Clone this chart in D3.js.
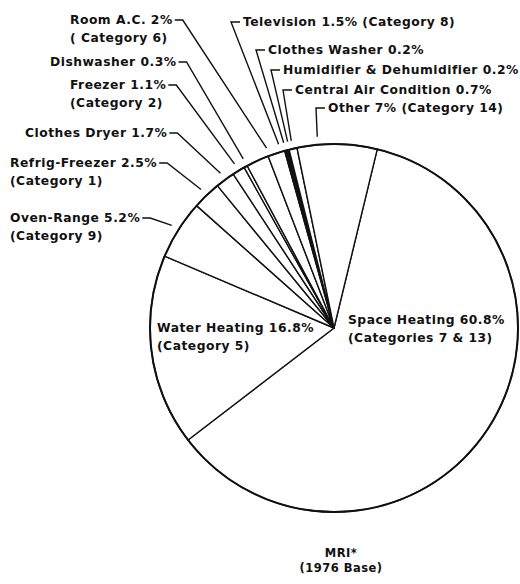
<!DOCTYPE html>
<html>
<head>
<meta charset="utf-8">
<script src="https://cdn.jsdelivr.net/npm/d3@7"></script>
<style>
  html, body { margin: 0; padding: 0; background: #fff; }
  text { font-family: "DejaVu Sans", sans-serif; font-weight: bold; font-size: 12.3px; letter-spacing: 0.5px; fill: #111; }
</style>
</head>
<body>
<div id="chart"></div>
<script>
// Slices clockwise, starting with Space Heating
const uses = ["Space Heating", "Water Heating", "Oven-Range", "Refrig-Freezer", "Clothes Dryer",
  "Freezer", "Dishwasher", "Room A.C.", "Television", "Clothes Washer",
  "Humidifier & Dehumidifier", "Central Air Condition", "Other"];
const shares = [60.8, 16.8, 5.2, 2.5, 1.7, 1.1, 0.3, 2, 1.5, 0.2, 0.2, 0.7, 7];
const categories = ["(Categories 7 & 13)", "(Category 5)", "(Category 9)", "(Category 1)", null,
  "(Category 2)", null, "( Category 6)", "(Category 8)", null, null, null, "(Category 14)"];
const blackSlices = ["Clothes Washer", "Humidifier & Dehumidifier"];
const titleLines = ["MRI*", "(1976 Base)"];

// label placement: side, left x of text, baseline, category inline or on second line, leader nudge (deg)
const labelLayout = [
  { side: "inside", x: 348, y: 324, inline: false },
  { side: "inside", x: 157, y: 332, inline: false },
  { side: "left", x: 10, y: 222, inline: false, nudge: 0 },
  { side: "left", x: 10, y: 167, inline: false, nudge: 0 },
  { side: "left", x: 25, y: 137, inline: false, nudge: 0 },
  { side: "left", x: 70, y: 89, inline: false, nudge: 0 },
  { side: "left", x: 50, y: 66, inline: false, nudge: 0.5 },
  { side: "left", x: 70, y: 24, inline: false, nudge: 4 },
  { side: "top", x: 243, y: 26, inline: true, nudge: 1.5 },
  { side: "top", x: 268, y: 54, inline: true, nudge: 0 },
  { side: "top", x: 283, y: 74, inline: true, nudge: 0.5 },
  { side: "top", x: 295, y: 94, inline: true, nudge: 0 },
  { side: "top", x: 328, y: 112, inline: true, nudge: -6 }
];

const W = 520, H = 584;
const cx = 334, cy = 328, R = 184;
const startDeg = 13.6;
const toRad = d => d * Math.PI / 180;

const data = uses.map((name, i) => ({ name, value: shares[i], cat: categories[i], lay: labelLayout[i] }));

const svg = d3.select("#chart").append("svg")
  .attr("width", W).attr("height", H);

const pie = d3.pie().sort(null).value(d => d.value)
  .startAngle(toRad(startDeg)).endAngle(toRad(startDeg) + 2 * Math.PI);
const arcs = pie(data);

const arc = d3.arc().innerRadius(0).outerRadius(R);
const g = svg.append("g").attr("transform", `translate(${cx},${cy})`);

g.selectAll("path.slice")
  .data(arcs)
  .join("path")
  .attr("class", "slice")
  .attr("d", arc)
  .attr("fill", d => blackSlices.includes(d.data.name) ? "#111" : "#fff")
  .attr("stroke", "#111")
  .attr("stroke-width", 1.4)
  .attr("stroke-linejoin", "round");

g.append("circle")
  .attr("r", R)
  .attr("fill", "none")
  .attr("stroke", "#111")
  .attr("stroke-width", 2);

// labels and leader lines
const labels = svg.append("g");
const leaders = svg.append("g")
  .attr("fill", "none").attr("stroke", "#111").attr("stroke-width", 1.4)
  .attr("stroke-linejoin", "miter");

arcs.forEach(a => {
  const d = a.data, lay = d.lay;
  const line1 = lay.inline && d.cat
    ? `${d.name} ${d.value}% ${d.cat}`
    : `${d.name} ${d.value}%`;
  const t1 = labels.append("text").attr("x", lay.x).attr("y", lay.y).text(line1);
  if (d.cat && !lay.inline) {
    labels.append("text").attr("x", lay.x).attr("y", lay.y + 18).text(d.cat);
  }
  if (lay.side === "inside") return;

  const mid = (a.startAngle + a.endAngle) / 2 + toRad(lay.nudge || 0);
  const rr = R + 8;
  const ex = cx + rr * Math.sin(mid), ey = cy - rr * Math.cos(mid);
  const ym = lay.y - 4;
  let pts;
  if (lay.side === "left") {
    const xe = lay.x + t1.node().getComputedTextLength();
    pts = [[xe + 2, ym], [xe + 10, ym], [ex, ey]];
  } else {
    pts = [[lay.x - 3, ym], [lay.x - 12, ym], [ex, ey]];
  }
  leaders.append("path").attr("d", d3.line()(pts));
});

svg.append("g").selectAll("text")
  .data(titleLines)
  .join("text")
  .attr("x", 341)
  .attr("y", (d, i) => 557 + i * 15)
  .attr("text-anchor", "middle")
  .style("font-size", "11.5px")
  .text(d => d);
</script>
</body>
</html>
